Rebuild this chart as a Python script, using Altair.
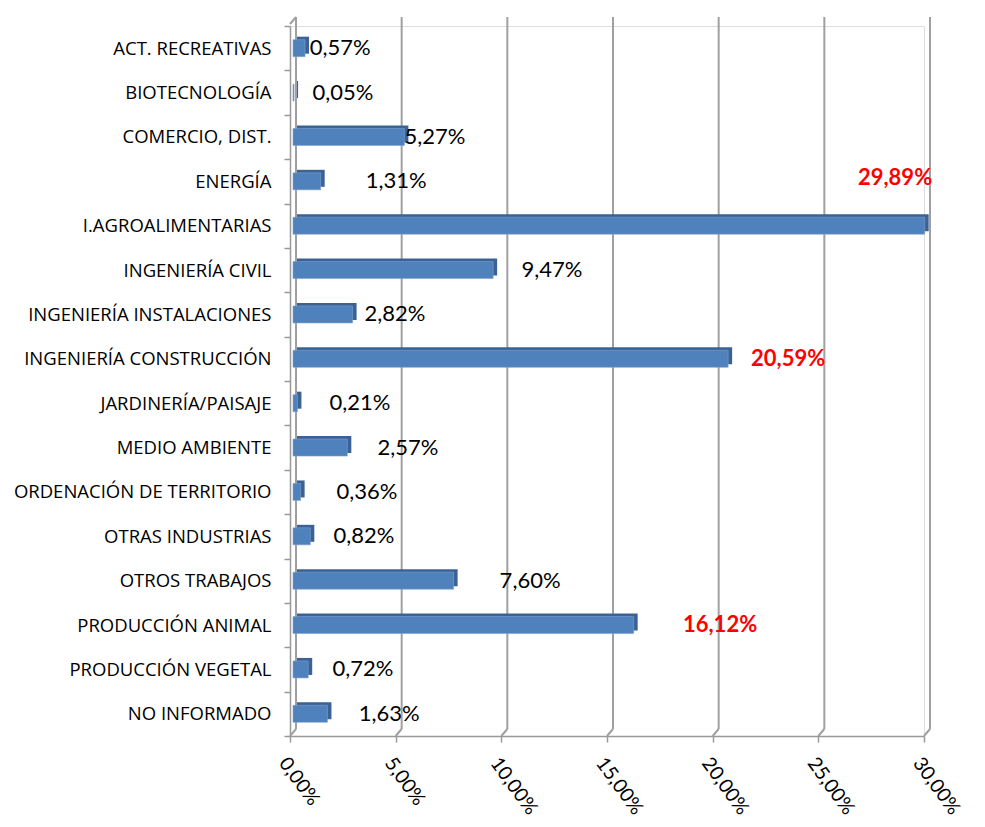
import altair as alt
import pandas as pd

categories = [
    "ACT. RECREATIVAS", "BIOTECNOLOGÍA", "COMERCIO, DIST.", "ENERGÍA",
    "I.AGROALIMENTARIAS", "INGENIERÍA CIVIL", "INGENIERÍA INSTALACIONES",
    "INGENIERÍA CONSTRUCCIÓN", "JARDINERÍA/PAISAJE", "MEDIO AMBIENTE",
    "ORDENACIÓN DE TERRITORIO", "OTRAS INDUSTRIAS", "OTROS TRABAJOS",
    "PRODUCCIÓN ANIMAL", "PRODUCCIÓN VEGETAL", "NO INFORMADO",
]
values = [0.57, 0.05, 5.27, 1.31, 29.89, 9.47, 2.82, 20.59, 0.21, 2.57,
          0.36, 0.82, 7.60, 16.12, 0.72, 1.63]
value_labels = ["0,57%", "0,05%", "5,27%", "1,31%", "29,89%", "9,47%", "2,82%",
                "20,59%", "0,21%", "2,57%", "0,36%", "0,82%", "7,60%", "16,12%",
                "0,72%", "1,63%"]
highlight = [False, False, False, False, True, False, False, True, False, False,
             False, False, False, True, False, False]
# where Excel placed each data label (in axis units) and whether it was lifted one row
label_pos = [2.37, 2.51, 6.86, 5.02, 28.63, 12.40, 4.97, 23.57, 3.31, 5.58,
             3.64, 3.50, 11.36, 20.35, 3.45, 4.69]
label_lifted = [False, False, False, False, True, False, False, False, False, False,
                False, False, False, False, False, False]
x_ticks = [0, 5, 10, 15, 20, 25, 30]

W, H = 634, 710
FONT = "Open Sans"
VFONT = "Lato"

df = pd.DataFrame({
    "cat": categories, "val": values, "lab": value_labels,
    "hl": highlight, "lx": label_pos, "lift": label_lifted,
})
grid = pd.DataFrame({"t": x_ticks})

y_enc = alt.Y("cat:N", sort=categories, title=None,
              scale=alt.Scale(paddingInner=0, paddingOuter=0),
              axis=alt.Axis(labelFont=FONT, labelFontSize=18.5, labelColor="black",
                            labelLimit=500,
                            domainColor="#999999", domainWidth=1.5, tickColor="#999999",
                            tickWidth=1.5, tickSize=6, tickBand="extent",
                            labelPadding=13, grid=False))
x_scale = alt.Scale(domain=[0, 30], nice=False, zero=True)

base = alt.Chart(df)

gridlines = alt.Chart(grid).mark_rule(color="#A0A0A0", strokeWidth=2, xOffset=6).encode(
    x=alt.X("t:Q", scale=x_scale, title=None,
            axis=alt.Axis(values=x_ticks, grid=False, labelFont=VFONT, labelFontSize=19.5,
                          labelColor="black", labelAngle=54, labelAlign="left",
                          labelBaseline="top", labelPadding=12,
                          labelExpr="replace(format(datum.value, '.2f'), '.', ',') + '%'",
                          domainColor="#999999", domainWidth=1.5, tickColor="#999999",
                          tickWidth=1.5, tickSize=6)),
    y=alt.value(-9), y2=alt.value(H - 7),
)
diag = alt.Chart(grid).mark_rule(color="#A0A0A0", strokeWidth=2, x2Offset=6).encode(
    x=alt.X("t:Q", scale=x_scale), x2="t:Q",
    y=alt.value(H), y2=alt.value(H - 7),
)
top_diag = alt.Chart(grid).transform_filter("datum.t == 0").mark_rule(
    color="#A0A0A0", strokeWidth=2, x2Offset=6).encode(
    x=alt.X("t:Q", scale=x_scale), x2="t:Q",
    y=alt.value(-2), y2=alt.value(-9),
)

depth = base.mark_bar(size=17, color="#3B6295", xOffset=7, x2Offset=7, yOffset=-3).encode(
    x=alt.X("val:Q", scale=x_scale), y=y_enc)
front = base.mark_bar(size=17, color="#4F81BD", xOffset=3, x2Offset=3,
                      stroke="#7FA3CF", strokeWidth=0.6).encode(
    x=alt.X("val:Q", scale=x_scale), y=y_enc)

txt_normal = base.transform_filter("!datum.hl").mark_text(
    font=VFONT, fontSize=22, color="black", align="center", baseline="middle").encode(
    x=alt.X("lx:Q", scale=x_scale), y=y_enc, text="lab:N")
txt_hl = base.transform_filter("datum.hl && !datum.lift").mark_text(
    font=VFONT, fontSize=22, fontWeight="bold", color="#FF0000", align="center",
    baseline="middle").encode(
    x=alt.X("lx:Q", scale=x_scale), y=y_enc, text="lab:N")
txt_hl_lift = base.transform_filter("datum.hl && datum.lift").mark_text(
    font=VFONT, fontSize=22, fontWeight="bold", color="#FF0000", align="center",
    baseline="middle", dy=-48).encode(
    x=alt.X("lx:Q", scale=x_scale), y=y_enc, text="lab:N")

chart = alt.layer(gridlines, diag, top_diag, depth, front, txt_normal, txt_hl, txt_hl_lift).properties(
    width=W, height=H,
    padding={"top": 8, "left": 5, "right": 5, "bottom": 2},
).configure_view(stroke=None).configure(background="white")

chart.save("out.html", embed_options={"renderer": "svg", "actions": False})
